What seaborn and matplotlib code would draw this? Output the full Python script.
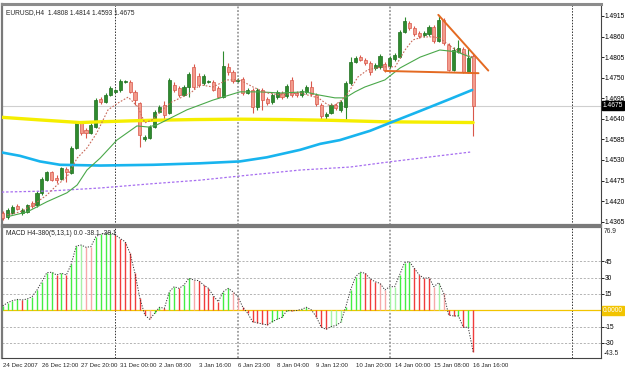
import numpy as np
import pandas as pd
import matplotlib
matplotlib.use("Agg")
import matplotlib.pyplot as plt
import matplotlib.transforms as mtransforms
import seaborn as sns

# ---------------- data ----------------
opens = [1.4388, 1.4378, 1.4388, 1.4407, 1.4388, 1.4391, 1.4415, 1.4410, 1.4442, 1.4476,
         1.4498, 1.4482, 1.4479, 1.4506, 1.4495, 1.4562, 1.4629, 1.4610, 1.4602, 1.4618,
         1.4693, 1.4685, 1.4704, 1.4712, 1.4717, 1.4739, 1.4739, 1.4712, 1.4682, 1.4586,
         1.4589, 1.4618, 1.4658, 1.4677, 1.4656, 1.4731, 1.4722, 1.4704, 1.4725, 1.4779,
         1.4755, 1.4736, 1.4739, 1.4739, 1.4722, 1.4698, 1.4779, 1.4765, 1.4741, 1.4747,
         1.4709, 1.4717, 1.4672, 1.4717, 1.4693, 1.4685, 1.4698, 1.4709, 1.4701, 1.4744,
         1.4709, 1.4704, 1.4712, 1.4725, 1.4704, 1.4677, 1.4648, 1.4656, 1.4677, 1.4664,
         1.4672, 1.4736, 1.4792, 1.4805, 1.4797, 1.4789, 1.4776, 1.4779, 1.4787, 1.4781,
         1.4800, 1.4805, 1.4872, 1.4896, 1.4883, 1.4870, 1.4864, 1.4867, 1.4886, 1.4848,
         1.4904, 1.4837, 1.4771, 1.4819, 1.4827, 1.4765, 1.4808]
highs = [1.4394, 1.4402, 1.4410, 1.4412, 1.4402, 1.4412, 1.4420, 1.4447, 1.4485, 1.4501,
         1.4501, 1.4490, 1.4511, 1.4511, 1.4567, 1.4634, 1.4634, 1.4615, 1.4629, 1.4696,
         1.4698, 1.4709, 1.4728, 1.4720, 1.4747, 1.4744, 1.4744, 1.4717, 1.4685, 1.4597,
         1.4624, 1.4664, 1.4677, 1.4688, 1.4749, 1.4739, 1.4728, 1.4731, 1.4765, 1.4787,
         1.4763, 1.4760, 1.4744, 1.4744, 1.4728, 1.4821, 1.4789, 1.4771, 1.4749, 1.4752,
         1.4722, 1.4722, 1.4722, 1.4722, 1.4698, 1.4709, 1.4717, 1.4714, 1.4733, 1.4752,
         1.4714, 1.4720, 1.4731, 1.4741, 1.4709, 1.4682, 1.4658, 1.4682, 1.4682, 1.4690,
         1.4741, 1.4805, 1.4808, 1.4811, 1.4803, 1.4795, 1.4789, 1.4813, 1.4792, 1.4808,
         1.4816, 1.4878, 1.4912, 1.4902, 1.4888, 1.4875, 1.4875, 1.4891, 1.4891, 1.4918,
         1.4910, 1.4843, 1.4832, 1.4851, 1.4832, 1.4829, 1.4814]
lows = [1.4370, 1.4373, 1.4386, 1.4396, 1.4383, 1.4388, 1.4402, 1.4404, 1.4436, 1.4474,
        1.4474, 1.4468, 1.4476, 1.4471, 1.4492, 1.4559, 1.4597, 1.4589, 1.4599, 1.4615,
        1.4680, 1.4682, 1.4701, 1.4709, 1.4712, 1.4736, 1.4709, 1.4677, 1.4565, 1.4581,
        1.4586, 1.4615, 1.4656, 1.4640, 1.4653, 1.4712, 1.4698, 1.4701, 1.4698, 1.4720,
        1.4725, 1.4731, 1.4736, 1.4714, 1.4696, 1.4696, 1.4757, 1.4736, 1.4739, 1.4704,
        1.4706, 1.4656, 1.4664, 1.4664, 1.4677, 1.4680, 1.4693, 1.4693, 1.4696, 1.4698,
        1.4698, 1.4698, 1.4706, 1.4701, 1.4674, 1.4640, 1.4637, 1.4653, 1.4664, 1.4658,
        1.4637, 1.4731, 1.4789, 1.4795, 1.4784, 1.4757, 1.4771, 1.4773, 1.4765, 1.4776,
        1.4795, 1.4803, 1.4870, 1.4878, 1.4862, 1.4856, 1.4859, 1.4862, 1.4843, 1.4846,
        1.4837, 1.4768, 1.4768, 1.4816, 1.4763, 1.4763, 1.4593]
closes = [1.4375, 1.4396, 1.4404, 1.4399, 1.4396, 1.4410, 1.4407, 1.4442, 1.4479, 1.4498,
          1.4476, 1.4476, 1.4509, 1.4498, 1.4562, 1.4629, 1.4602, 1.4602, 1.4624, 1.4690,
          1.4685, 1.4704, 1.4722, 1.4717, 1.4741, 1.4741, 1.4712, 1.4690, 1.4597, 1.4592,
          1.4618, 1.4658, 1.4672, 1.4650, 1.4744, 1.4717, 1.4704, 1.4725, 1.4760, 1.4725,
          1.4731, 1.4755, 1.4741, 1.4717, 1.4698, 1.4781, 1.4765, 1.4741, 1.4744, 1.4709,
          1.4717, 1.4672, 1.4717, 1.4690, 1.4682, 1.4704, 1.4712, 1.4698, 1.4728, 1.4704,
          1.4704, 1.4714, 1.4725, 1.4706, 1.4680, 1.4648, 1.4653, 1.4677, 1.4669, 1.4685,
          1.4736, 1.4792, 1.4803, 1.4797, 1.4789, 1.4765, 1.4784, 1.4808, 1.4771, 1.4803,
          1.4811, 1.4872, 1.4902, 1.4883, 1.4867, 1.4862, 1.4870, 1.4886, 1.4848, 1.4904,
          1.4843, 1.4771, 1.4824, 1.4829, 1.4765, 1.4803, 1.4675]

# moving averages (bar index, price)
fast_ma_idx = [0.9, 3.5, 6.2, 9.0, 11.1, 13.1, 15.2, 17.2, 19.2, 21.5, 23.5, 25.6, 27.6, 29.0,
               30.5, 32.5, 34.5, 36.6, 38.6, 40.3, 42.9, 45.8, 48.4, 51.1, 53.9, 56.6, 60.7,
               64.4, 66.4, 67.8, 69.2, 70.5, 72.5, 74.5, 77.4, 80.1, 82.1, 83.7, 85.8, 87.8,
               89.2, 91.9, 94.8, 96.0]
fast_ma_val = [1.4383, 1.4391, 1.4410, 1.4436, 1.4463, 1.4484, 1.4535, 1.4562, 1.4602, 1.4664,
               1.4682, 1.4698, 1.4672, 1.4629, 1.4637, 1.4664, 1.4685, 1.4698, 1.4712, 1.4731,
               1.4725, 1.4744, 1.4744, 1.4725, 1.4709, 1.4704, 1.4709, 1.4696, 1.4677, 1.4677,
               1.4690, 1.4709, 1.4752, 1.4771, 1.4779, 1.4779, 1.4824, 1.4851, 1.4859, 1.4859,
               1.4856, 1.4829, 1.4811, 1.4805]
mid_ma_idx = [0.9, 5.0, 9.0, 13.1, 15.2, 17.2, 19.9, 23.3, 27.4, 29.7, 31.5, 33.5, 37.6, 42.9,
              48.4, 52.5, 56.6, 61.7, 64.4, 67.8, 69.9, 71.9, 73.9, 78.0, 81.1, 85.2, 89.2,
              92.7, 95.8]
mid_ma_val = [1.4378, 1.4391, 1.4418, 1.4442, 1.4463, 1.4503, 1.4535, 1.4583, 1.4621, 1.4618,
              1.4624, 1.4637, 1.4664, 1.4690, 1.4712, 1.4712, 1.4709, 1.4712, 1.4704, 1.4696,
              1.4696, 1.4712, 1.4725, 1.4744, 1.4776, 1.4805, 1.4824, 1.4819, 1.4803]
yellow_ma_idx = [-0.2, 7.6, 15.8, 19.9, 30.1, 39.3, 48.4, 57.6, 66.8, 78.0, 96.0]
yellow_ma_val = [1.4644, 1.4637, 1.4630, 1.4632, 1.4636, 1.4638, 1.4639, 1.4638, 1.4636, 1.4632,
                 1.4630]
blue_ma_idx = [-0.2, 3.5, 7.6, 11.7, 19.9, 30.7, 40.3, 48.4, 53.9, 60.7, 64.8, 68.8, 75.0, 79.0,
               85.2, 91.3, 95.8]
blue_ma_val = [1.4550, 1.4541, 1.4526, 1.4517, 1.4515, 1.4517, 1.4521, 1.4526, 1.4537, 1.4557,
               1.4573, 1.4583, 1.4608, 1.4629, 1.4661, 1.4693, 1.4717]
purple_ma_idx = [-0.2, 9.7, 19.9, 30.1, 40.3, 48.4, 60.7, 70.9, 79.0, 87.2, 95.4]
purple_ma_val = [1.4444, 1.4447, 1.4455, 1.4466, 1.4476, 1.4487, 1.4503, 1.4511, 1.4525, 1.4538,
                 1.4551]
trend_down_idx = [88.9, 99.1]
trend_down_val = [1.4918, 1.4769]
trend_flat_idx = [78.0, 97.1]
trend_flat_val = [1.4768, 1.4762]

macd_vals = [4.0, 7.0, 8.8, 10.0, 9.5, 10.4, 12.5, 18.7, 26.3, 34.6,
             35.0, 32.5, 34.0, 32.5, 42.6, 59.0, 60.0, 58.0, 58.5, 67.7,
             70.0, 70.8, 71.4, 69.3, 66.0, 63.0, 52.4, 34.0, 11.0, -4.3,
             -8.3, -2.8, 2.8, 1.8, 17.0, 21.7, 20.2, 23.3, 29.4, 27.9,
             27.2, 23.3, 20.2, 13.2, 7.9, 17.1, 20.2, 17.0, 12.5, 2.8,
             -2.8, -10.5, -11.5, -12.6, -13.5, -10.5, -8.3, -6.5, -0.3, -0.5,
             -0.2, 0.9, 2.8, 0.3, -5.9, -15.6, -17.5, -15.0, -14.0, -11.0,
             3.0, 18.7, 30.9, 35.0, 34.0, 28.8, 26.3, 24.8, 18.7, 21.7,
             21.7, 32.5, 43.8, 44.7, 38.6, 32.5, 29.4, 30.0, 21.7, 25.4,
             15.6, -4.3, -5.2, -5.2, -15.6, -15.6, -38.1]
macd_kind = list("GGGGRGGGGG" "GRGRGGgrrG" "GGGRRRRRRR" "rGGRGGRGGr"
                 "RRRRRGGrrR" "RRRRRGGGGR" "GGGRRRRggg" "GGGGRRRrrg"
                 "gGGGRRRRrg" "rRRGRGR")

date_ticks = [0, 8, 16, 24, 32, 40, 48, 56, 64, 72, 80, 88, 96]
date_labels = ["24 Dec 2007", "26 Dec 12:00", "27 Dec 20:00", "31 Dec 00:00", "2 Jan 08:00",
               "3 Jan 16:00", "6 Jan 23:00", "8 Jan 04:00", "9 Jan 12:00", "10 Jan 20:00",
               "14 Jan 00:00", "15 Jan 08:00", "16 Jan 16:00"]
price_ticks = [1.4915, 1.4860, 1.4805, 1.4750, 1.4695, 1.4640, 1.4585, 1.4530, 1.4475,
               1.4420, 1.4365]
macd_ticks = [45, 30, 15, -15, -30]
week_black = [23, 116.2]
week_gray = [48, 79]
last_price = 1.4675

# ---------------- style ----------------
sns.set_style("white")
FONT = ["Liberation Sans", "DejaVu Sans"]
plt.rcParams["font.family"] = FONT
FS = 4.8
FSX = 4.4

W, H = 625, 370
fig = plt.figure(figsize=(W / 100, H / 100), dpi=100)
fig.patch.set_facecolor("white")


def rect(l, t, r, b):
    return [l / W, 1 - b / H, (r - l) / W, (b - t) / H]


ax = fig.add_axes(rect(2, 4, 601, 225))
ax2 = fig.add_axes(rect(2, 227, 601, 358), sharex=ax)

n = len(closes)
idx = np.arange(n)
o = np.array(opens); c = np.array(closes); h = np.array(highs); l = np.array(lows)
up = c >= o

# current price line
ax.axhline(last_price, color="#cfcfcf", lw=0.8, zorder=1)

# separators
for wx in week_black:
    for a in (ax, ax2):
        a.axvline(wx, color="#333333", lw=0.7, ls=(0, (1.5, 1.5)), zorder=1)
for wx in week_gray:
    for a in (ax, ax2):
        a.axvline(wx, color="#9a9a9a", lw=1.3, ls=(0, (1, 1)), zorder=1)

# candles
bull_face, bull_edge = "#2e8b2e", "#1f6f1f"
bear_face, bear_edge = "#f29b8c", "#d9574a"
ax.vlines(idx[up], l[up], h[up], color=bull_face, lw=0.8, zorder=3)
ax.vlines(idx[~up], l[~up], h[~up], color=bear_edge, lw=0.8, zorder=3)
body = np.abs(c - o)
body = np.where(body < 0.00012, 0.00012, body)
ax.bar(idx[up], body[up], bottom=np.minimum(o, c)[up], width=0.62,
       color=bull_face, edgecolor=bull_edge, linewidth=0.5, zorder=4)
ax.bar(idx[~up], body[~up], bottom=np.minimum(o, c)[~up], width=0.62,
       color=bear_face, edgecolor=bear_edge, linewidth=0.5, zorder=4)


# moving averages via seaborn
def mline(a, xs, ys, **kw):
    df = pd.DataFrame({"x": xs, "y": ys})
    sns.lineplot(data=df, x="x", y="y", ax=a, sort=False, estimator=None, legend=False, **kw)


mline(ax, yellow_ma_idx, yellow_ma_val, color="#f5ee00", lw=2.4, zorder=5)
mline(ax, blue_ma_idx, blue_ma_val, color="#18b4ee", lw=1.9, zorder=5)
mline(ax, purple_ma_idx, purple_ma_val, color="#a76ef0", lw=0.9, ls=(0, (2, 1.5)), zorder=5)
mline(ax, mid_ma_idx, mid_ma_val, color="#4aa84a", lw=0.8, zorder=5)
mline(ax, fast_ma_idx, fast_ma_val, color="#c96a5a", lw=0.8, ls=(0, (1.5, 1.5)), zorder=5)
mline(ax, trend_down_idx, trend_down_val, color="#e46a22", lw=1.4, zorder=6)
mline(ax, trend_flat_idx, trend_flat_val, color="#e46a22", lw=1.4, zorder=6)

# MACD panel
for lv in macd_ticks:
    ax2.axhline(lv, color="#a8a8a8", lw=0.6, ls=(0, (2.5, 2)), zorder=1)
ax2.axhline(0, color="#f2c400", lw=0.9, zorder=2)
cmap = {"G": "#44ee44", "R": "#f03c3c", "g": "#a6f3a6", "r": "#f6aaaa"}
ax2.vlines(idx, 0, macd_vals, colors=[cmap[k] for k in macd_kind], lw=1.0, zorder=3)
mline(ax2, idx, macd_vals, color="#333333", lw=0.7, ls=(0, (1.2, 1.5)), zorder=4)

# axes limits
ax.set_xlim(-0.14, 122.1)
ax.set_ylim(1.4356, 1.4947)
ax2.set_ylim(-43.9, 76.6)

for a in (ax, ax2):
    a.set_xlabel(""); a.set_ylabel("")
    a.set_facecolor("white")
    for s in a.spines.values():
        s.set_color("#7a7a7a"); s.set_linewidth(0.8)
    a.yaxis.tick_right()
    a.tick_params(axis="y", length=1.8, width=0.6, pad=0.8, labelsize=FS, colors="black")
ax.spines["top"].set_linewidth(2.2); ax.spines["top"].set_color("#8c8c8c")
ax.spines["left"].set_linewidth(1.6); ax2.spines["left"].set_linewidth(1.6)
ax.spines["bottom"].set_linewidth(1.6); ax2.spines["top"].set_linewidth(1.6)
ax.spines["right"].set_color("#444444"); ax2.spines["right"].set_color("#444444")
ax2.spines["bottom"].set_color("#444444")

ax.set_yticks(price_ticks)
ax.set_yticklabels([f"{v:.4f}" for v in price_ticks])
ax.tick_params(axis="x", which="both", length=0, labelbottom=False)

ax2.set_yticks(macd_ticks)
ax2.set_yticklabels([f"{v:d}" for v in macd_ticks])
ax2.set_xticks(date_ticks)
ax2.set_xticklabels(date_labels)
ax2.tick_params(axis="x", length=2, width=0.6, pad=1.5, labelsize=FSX)
for t in ax2.get_xticklabels():
    t.set_horizontalalignment("left")

# extra right-side labels
tr = mtransforms.blended_transform_factory(ax.transAxes, ax.transData)
ax.text(1.003, last_price, f"{last_price:.4f}", transform=tr, fontsize=FS, color="white",
        va="center", ha="left",
        bbox=dict(boxstyle="square,pad=0.12", fc="black", ec="black"), zorder=10, clip_on=False)
tr2 = mtransforms.blended_transform_factory(ax2.transAxes, ax2.transData)
ax2.text(1.003, 0, "0.0000", transform=tr2, fontsize=FS, color="white", va="center", ha="left",
         bbox=dict(boxstyle="square,pad=0.12", fc="#f2c400", ec="#f2c400"), zorder=10, clip_on=False)
ax2.text(1.004, 0.995, "76.9", transform=ax2.transAxes, fontsize=FS, va="top", ha="left")
ax2.text(1.004, 0.005, "-43.5", transform=ax2.transAxes, fontsize=FS, va="bottom", ha="left")

# headers
ax.text(0.006, 0.975, "EURUSD,H4  1.4808 1.4814 1.4593 1.4675", transform=ax.transAxes,
        fontsize=FS, va="top", ha="left", zorder=10)
ax2.text(0.006, 0.975, "MACD H4-380(5,13,1) 0.0 -38.1 -38.1", transform=ax2.transAxes,
         fontsize=FS, va="top", ha="left", zorder=10)

fig.savefig("out.png", dpi=100, facecolor="white")
